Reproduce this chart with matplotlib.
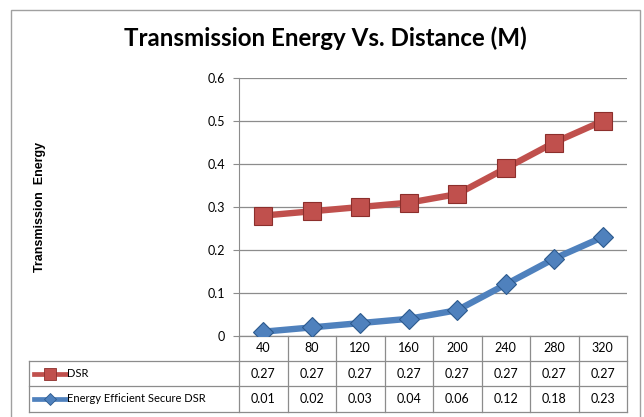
import numpy as np
import matplotlib.pyplot as plt
from matplotlib.patches import Rectangle
from matplotlib.lines import Line2D

# chart data
distances = ["40", "80", "120", "160", "200", "240", "280", "320"]
dsr_plot = [0.28, 0.29, 0.30, 0.31, 0.33, 0.39, 0.45, 0.50]
eesdsr_plot = [0.01, 0.02, 0.03, 0.04, 0.06, 0.12, 0.18, 0.23]
dsr_table = ["0.27", "0.27", "0.27", "0.27", "0.27", "0.27", "0.27", "0.27"]
eesdsr_table = ["0.01", "0.02", "0.03", "0.04", "0.06", "0.12", "0.18", "0.23"]
yticks = [0, 0.1, 0.2, 0.3, 0.4, 0.5, 0.6]

FONT = "Lato"
red = "#C0504D"
red_edge = "#8C2F2C"
blue = "#4F81BD"
blue_edge = "#2C5A8E"
grid_c = "#8C8C8C"

W, H = 644, 417
fig = plt.figure(figsize=(W/100, H/100), dpi=100)

# outer chart frame
fig.patches.append(Rectangle((11/W, -0.01), 629/W, (H-10)/H + 0.01, transform=fig.transFigure,
                             fill=False, edgecolor="#A0A0A0", lw=1.0))

ax = fig.add_axes([239/W, (H-336)/H, (627-239)/W, (336-78)/H])
x = np.arange(len(distances))

ax.plot(x, dsr_plot, color=red, lw=4.6, marker="s", markersize=13,
        markerfacecolor=red, markeredgecolor=red_edge, markeredgewidth=0.8, zorder=3)
ax.plot(x, eesdsr_plot, color=blue, lw=4.6, marker="D", markersize=10.5,
        markerfacecolor=blue, markeredgecolor=blue_edge, markeredgewidth=0.8, zorder=3)

ax.set_xlim(-0.5, len(distances) - 0.5)
ax.set_ylim(0, 0.6)
ax.set_yticks(yticks)
ax.set_yticklabels(["0", "0.1", "0.2", "0.3", "0.4", "0.5", "0.6"], fontsize=9, family=FONT)
ax.tick_params(axis="y", length=4, color=grid_c, pad=6)
ax.set_xticks([])
for s in ["top", "right", "bottom"]:
    ax.spines[s].set_visible(False)
ax.spines["left"].set_color(grid_c)
ax.grid(axis="y", color=grid_c, lw=0.9)
ax.set_axisbelow(True)

# data table under the plot
trans = ax.get_xaxis_transform()
hpx = 336 - 78
r1 = -25 / hpx
r2 = -50 / hpx
r3 = -76 / hpx
px = (627 - 239) / 8
def xd(p):
    return (p - 239) / px - 0.5
lab_left = xd(29)
line_kw = dict(color=grid_c, lw=0.9, clip_on=False, transform=trans)
ax.add_line(Line2D([-0.5, 7.5], [0, 0], **line_kw))
ax.add_line(Line2D([lab_left, 7.5], [r1, r1], **line_kw))
ax.add_line(Line2D([lab_left, 7.5], [r2, r2], **line_kw))
ax.add_line(Line2D([lab_left, 7.5], [r3, r3], **line_kw))
for i in range(len(distances) + 1):
    ax.add_line(Line2D([i - 0.5, i - 0.5], [0, r3], **line_kw))
ax.add_line(Line2D([lab_left, lab_left], [r1, r3], **line_kw))

tkw = dict(transform=trans, ha="center", va="center", fontsize=9, family=FONT, clip_on=False)
for i in range(len(distances)):
    ax.text(i, r1 / 2, distances[i], **tkw)
    ax.text(i, (r1 + r2) / 2, dsr_table[i], **tkw)
    ax.text(i, (r2 + r3) / 2, eesdsr_table[i], **tkw)

# legend keys inside the table
for yy, col, ecol, mk, ms, name in [((r1 + r2) / 2, red, red_edge, "s", 8, "DSR"),
                                    ((r2 + r3) / 2, blue, blue_edge, "D", 6.5, "Energy Efficient Secure DSR")]:
    ax.add_line(Line2D([xd(34), xd(66)], [yy, yy], color=col, lw=3.4, clip_on=False, transform=trans))
    ax.add_line(Line2D([xd(50)], [yy], marker=mk, markersize=ms, markerfacecolor=col,
                       markeredgecolor=ecol, markeredgewidth=0.6, clip_on=False, transform=trans))
    ax.text(xd(67), yy, name, transform=trans, ha="left", va="center", fontsize=8,
            family=FONT, clip_on=False)

fig.text(325/W, 1 - 38/H, "Transmission Energy Vs. Distance (M)", ha="center", va="center",
         fontsize=17.4, fontweight="bold", family=FONT)
fig.text(40/W, 1 - 207/H, "Transmission  Energy", ha="center", va="center", rotation=90,
         fontsize=9, fontweight="bold", family="Liberation Sans")

fig.savefig("out.png", dpi=100)
